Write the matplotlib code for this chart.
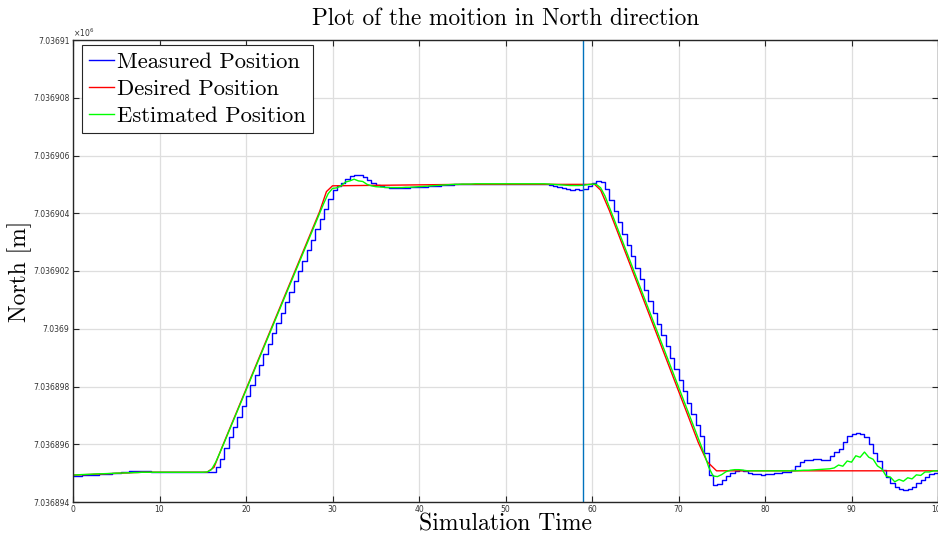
import matplotlib
matplotlib.use("Agg")
import matplotlib.pyplot as plt
from matplotlib.ticker import FuncFormatter
import numpy as np

# North coordinate = BASE + offset (metres)
BASE = 7036894.0

# sample times of the measured / estimated signals (0.5 s)
sample_t = np.arange(0, 100.01, 0.5)

measured_off = [
    0.90, 0.91, 0.92, 0.93, 0.94, 0.95, 0.96, 0.97, 0.98, 0.99,
    1.01, 1.03, 1.05, 1.07, 1.08, 1.08, 1.07, 1.06, 1.05, 1.04,
    1.03, 1.03, 1.03, 1.03, 1.03, 1.03, 1.03, 1.03, 1.03, 1.03,
    1.03, 1.03, 1.03, 1.20, 1.50, 1.88, 2.24, 2.60, 2.96, 3.32,
    3.68, 4.04, 4.40, 4.76, 5.12, 5.48, 5.84, 6.20, 6.56, 6.92,
    7.28, 7.64, 8.00, 8.36, 8.72, 9.08, 9.44, 9.80, 10.16, 10.50,
    10.82, 10.95, 11.05, 11.20, 11.30, 11.34, 11.32, 11.25, 11.15, 11.05,
    10.98, 10.93, 10.90, 10.89, 10.88, 10.88, 10.88, 10.89, 10.90, 10.90,
    10.91, 10.92, 10.93, 10.95, 10.96, 10.97, 10.98, 10.99, 11.00, 11.00,
    11.01, 11.01, 11.02, 11.02, 11.02, 11.02, 11.02, 11.02, 11.02, 11.02,
    11.02, 11.02, 11.02, 11.02, 11.02, 11.02, 11.02, 11.02, 11.01, 11.00,
    10.98, 10.94, 10.90, 10.86, 10.84, 10.80, 10.83, 10.79, 10.84, 10.95,
    11.05, 11.10, 11.08, 10.85, 10.45, 10.07, 9.68, 9.29, 8.90, 8.51,
    8.12, 7.73, 7.34, 6.95, 6.56, 6.17, 5.78, 5.39, 5.00, 4.61,
    4.22, 3.83, 3.44, 3.05, 2.66, 2.27, 1.70, 0.95, 0.60, 0.62,
    0.75, 0.90, 1.02, 1.08, 1.12, 1.08, 1.02, 0.98, 0.96, 0.95,
    0.96, 0.98, 1.00, 1.02, 1.03, 1.05, 1.10, 1.25, 1.38, 1.44,
    1.46, 1.48, 1.48, 1.45, 1.46, 1.58, 1.72, 1.85, 2.08, 2.28,
    2.36, 2.39, 2.36, 2.25, 2.02, 1.70, 1.42, 1.12, 0.88, 0.65,
    0.52, 0.45, 0.42, 0.45, 0.52, 0.65, 0.76, 0.86, 0.96, 1.00,
    0.99,
]

estimated_off = [
    0.93, 0.94, 0.95, 0.955, 0.96, 0.97, 0.975, 0.98, 0.985, 0.99,
    1.00, 1.00, 1.01, 1.01, 1.02, 1.02, 1.03, 1.03, 1.03, 1.03,
    1.03, 1.03, 1.03, 1.03, 1.03, 1.03, 1.03, 1.03, 1.03, 1.03,
    1.03, 1.04, 1.12, 1.38, 1.72, 2.07, 2.43, 2.79, 3.15, 3.51,
    3.87, 4.23, 4.59, 4.95, 5.31, 5.67, 6.03, 6.39, 6.75, 7.11,
    7.47, 7.83, 8.19, 8.55, 8.91, 9.27, 9.63, 9.99, 10.35, 10.68,
    10.86, 10.88, 10.95, 11.08, 11.12, 11.18, 11.12, 11.10, 11.00, 10.95,
    10.92, 10.91, 10.90, 10.89, 10.89, 10.89, 10.89, 10.90, 10.90, 10.91,
    10.92, 10.93, 10.94, 10.95, 10.96, 10.97, 10.98, 10.99, 11.00, 11.00,
    11.01, 11.01, 11.01, 11.02, 11.02, 11.02, 11.02, 11.02, 11.02, 11.02,
    11.02, 11.02, 11.02, 11.02, 11.02, 11.02, 11.02, 11.02, 11.02, 11.02,
    11.01, 11.00, 10.99, 10.98, 10.97, 10.96, 10.96, 10.96, 10.97, 10.99,
    11.01, 11.00, 10.88, 10.60, 10.22, 9.83, 9.44, 9.05, 8.66, 8.27,
    7.88, 7.49, 7.10, 6.71, 6.32, 5.93, 5.54, 5.15, 4.76, 4.37,
    3.98, 3.59, 3.20, 2.81, 2.42, 2.03, 1.65, 1.20, 0.90, 0.88,
    0.95, 1.05, 1.10, 1.12, 1.12, 1.10, 1.08, 1.08, 1.08, 1.08,
    1.08, 1.08, 1.08, 1.08, 1.08, 1.08, 1.08, 1.08, 1.09, 1.10,
    1.10, 1.11, 1.12, 1.13, 1.14, 1.15, 1.18, 1.28, 1.24, 1.42,
    1.38, 1.60, 1.55, 1.73, 1.55, 1.48, 1.25, 1.15, 0.90, 0.86,
    0.70, 0.78, 0.72, 0.84, 0.80, 0.94, 0.92, 1.04, 1.04, 1.08,
    1.08,
]

# desired trajectory breakpoints
desired_t = [0, 8, 15.5, 16.3, 17.3, 28.5, 29.3, 30.0, 45, 60.3, 61.0, 62.0,
             72.3, 73.3, 74.4, 100]
desired_off = [0.93, 1.03, 1.03, 1.20, 1.95, 10.05, 10.75, 10.95, 11.0, 11.0,
               10.8, 10.1, 2.05, 1.4, 1.08, 1.08]

marker_time = 59.0

x_ticks = [0, 10, 20, 30, 40, 50, 60, 70, 80, 90, 100]
y_ticks_off = [0, 2, 4, 6, 8, 10, 12, 14, 16]

measured = BASE + np.array(measured_off)
estimated = BASE + np.array(estimated_off)
desired = BASE + np.array(desired_off)

W, H = 938, 535
fig = plt.figure(figsize=(W / 100, H / 100), dpi=100)
ax = fig.add_axes([73 / W, 33 / H, 865 / W, 462 / H])

serif = "cmr10"
tick_color = "#262626"

ax.plot(sample_t, measured, color=(0, 0, 1), lw=1.0, drawstyle="steps-post",
        label="Measured Position")
ax.plot(desired_t, desired, color=(1, 0, 0), lw=1.0, label="Desired Position")
ax.plot(sample_t, estimated, color=(0, 1, 0), lw=1.0, label="Estimated Position")
ax.axvline(marker_time, color="#0072BD", lw=1.0)

ax.set_xlim(0, 100)
ax.set_ylim(BASE, BASE + 16)
ax.set_xticks(x_ticks)
ax.set_yticks([BASE + v for v in y_ticks_off])


def north_fmt(v, pos):
    return f"{v / 1e6:.7f}".rstrip("0").rstrip(".")


ax.yaxis.set_major_formatter(FuncFormatter(north_fmt))
ax.tick_params(direction="in", length=4, width=0.8, colors=tick_color,
               labelsize=5.5, top=True, right=True, pad=2.5)
for lab in ax.get_xticklabels() + ax.get_yticklabels():
    lab.set_family("DejaVu Sans")
    lab.set_color("#333333")

ax.grid(True, color="#dedede", lw=0.9)
ax.set_axisbelow(True)
for sp in ax.spines.values():
    sp.set_color(tick_color)
    sp.set_linewidth(1.0)

ax.text(0.0, 1.002, r"$\times10^{6}$", transform=ax.transAxes, fontsize=5.5,
        ha="left", va="bottom", color="#333333")

ax.set_title("Plot of the moition in North direction", family=serif,
             fontsize=16.8, pad=11)
ax.set_xlabel("Simulation Time", family=serif, fontsize=17, labelpad=-1)
ax.set_ylabel("North [m]", family=serif, fontsize=17, labelpad=1)

leg = ax.legend(loc="upper left", bbox_to_anchor=(0.0105, 0.989), borderaxespad=0,
                prop={"family": serif, "size": 16.3}, frameon=True,
                fancybox=False, framealpha=1, edgecolor=tick_color,
                handlelength=1.1, handletextpad=0.15, borderpad=0.3,
                labelspacing=0.33)
leg.get_frame().set_linewidth(0.8)

fig.savefig("out.png", dpi=100)
